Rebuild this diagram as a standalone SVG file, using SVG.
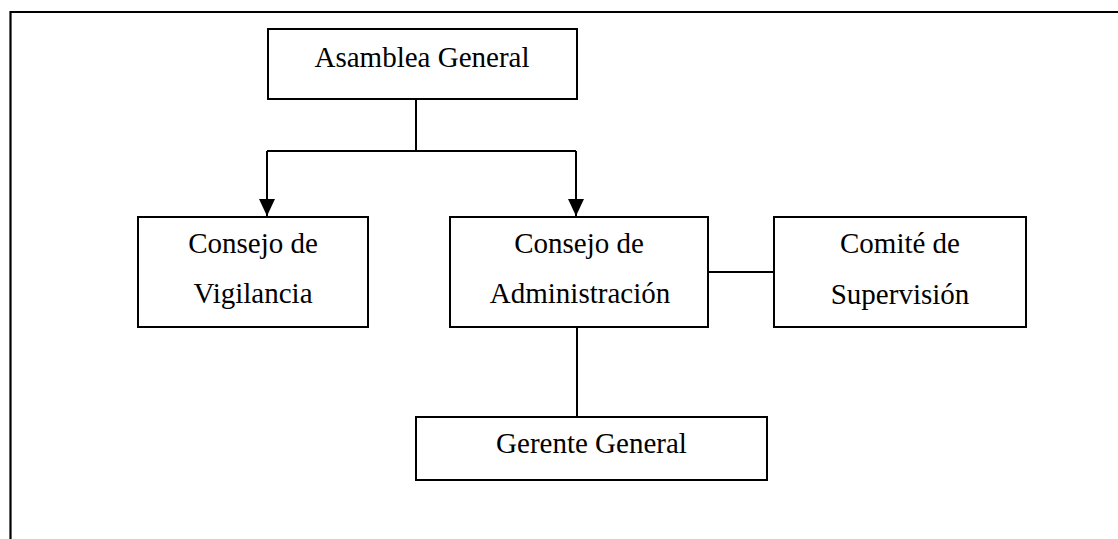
<svg xmlns="http://www.w3.org/2000/svg" width="1118" height="539" viewBox="0 0 1118 539">
  <style>
    .box { fill: #ffffff; stroke: #000000; stroke-width: 2; }
    .lbl { font-family: "Liberation Serif", "Times New Roman", serif; font-size: 29px; fill: #000000; text-anchor: middle; }
    .link { fill: none; stroke: #000000; stroke-width: 2; }
    .frame { fill: none; stroke: #000000; stroke-width: 2.2; }
  </style>
  <defs>
    <marker id="arrow" markerUnits="userSpaceOnUse" markerWidth="17" markerHeight="16" refX="17" refY="8" orient="auto">
      <path d="M0,0 L17,8 L0,16 Z" fill="#000000"/>
    </marker>
  </defs>
  <rect width="1118" height="539" fill="#ffffff"/>

  <!-- page frame -->
  <path class="frame" d="M10.5,539 L10.5,12 L1118,12"/>

  <!-- connectors -->
  <g id="connectors">
    <path class="link" d="M416,99 L416,151"/>
    <path class="link" d="M267,151 L576,151"/>
    <path class="link" d="M267,151 L267,216" marker-end="url(#arrow)"/>
    <path class="link" d="M576,151 L576,216" marker-end="url(#arrow)"/>
    <path class="link" d="M708,272 L774,272"/>
    <path class="link" d="M577,327 L577,417"/>
  </g>

  <g id="asamblea-general">
    <rect class="box" x="268" y="29" width="309" height="70"/>
    <text class="lbl" x="422" y="67">Asamblea General</text>
  </g>

  <g id="consejo-vigilancia">
    <rect class="box" x="138" y="217" width="230" height="110"/>
    <text class="lbl" x="253" y="253">Consejo de</text>
    <text class="lbl" x="253" y="303">Vigilancia</text>
  </g>

  <g id="consejo-administracion">
    <rect class="box" x="450" y="217" width="258" height="110"/>
    <text class="lbl" x="579" y="253">Consejo de</text>
    <text class="lbl" x="580" y="303">Administración</text>
  </g>

  <g id="comite-supervision">
    <rect class="box" x="774" y="217" width="252" height="110"/>
    <text class="lbl" x="900" y="253">Comité de</text>
    <text class="lbl" x="900" y="304">Supervisión</text>
  </g>

  <g id="gerente-general">
    <rect class="box" x="416" y="417" width="351" height="63"/>
    <text class="lbl" x="591.5" y="453">Gerente General</text>
  </g>
</svg>
